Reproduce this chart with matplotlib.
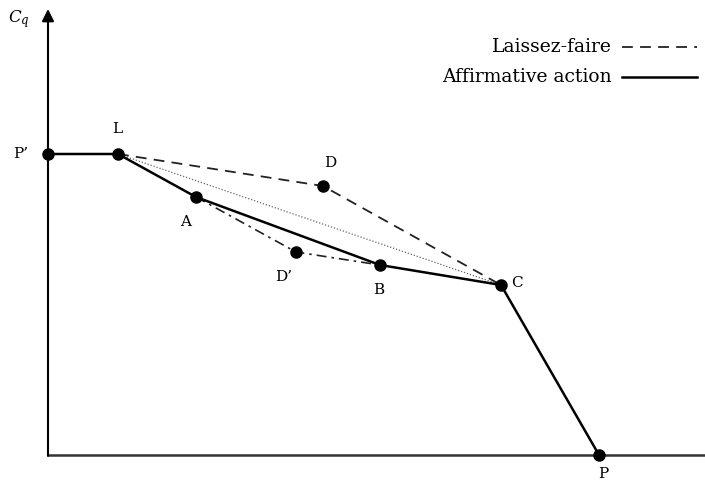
import matplotlib
matplotlib.use("Agg")
import matplotlib.pyplot as plt

# Point coordinates (origin at the axes corner)
point_names = ["P’", "L", "A", "D", "D’", "B", "C", "P"]
point_x = [0, 70, 148, 275, 248, 332, 453, 551]
point_y = [301, 301, 258, 269, 203, 190, 170, 0]

pts = dict(zip(point_names, zip(point_x, point_y)))

# Paths
affirmative_path = ["P’", "L", "A", "B", "C", "P"]
laissez_path = ["L", "D", "C"]
dotted_path = ["L", "C"]
dashdot_path = ["A", "D’", "B"]

# Label offsets (in pixels)
label_offsets = {
    "P’": (-27, 0), "L": (-1, 25), "A": (-10, -25), "D": (7, 23),
    "D’": (-12, -25), "B": (-1, -25), "C": (16, 2), "P": (4, -19),
}

plt.rcParams["font.family"] = ["DejaVu Serif"]
plt.rcParams["mathtext.fontset"] = "dejavuserif"

fig = plt.figure(figsize=(7.05, 4.82), dpi=100)
ax = fig.add_axes([0, 0, 1, 1])
ax.set_xlim(-48, 657)
ax.set_ylim(-27, 455)
ax.axis("off")


def path_xy(names):
    return [pts[n][0] for n in names], [pts[n][1] for n in names]


# axes
ax.plot([0, 660], [0, 0], color="#333333", lw=1.8, solid_capstyle="butt")
ax.annotate("", xy=(0, 446), xytext=(0, -1),
            arrowprops=dict(arrowstyle="-|>", color="black", lw=1.5,
                            mutation_scale=18, shrinkA=0, shrinkB=0))
ax.text(-40, 436, "$C_q$", fontsize=12, ha="left", va="center")

x, y = path_xy(dotted_path)
ax.plot(x, y, color="#666666", lw=0.9, ls=(0, (1, 1.5)))
x, y = path_xy(laissez_path)
ax.plot(x, y, color="#222222", lw=1.3, ls=(0, (6, 4)))
x, y = path_xy(dashdot_path)
ax.plot(x, y, color="#222222", lw=1.2, ls=(0, (6, 3, 1.5, 3)))
x, y = path_xy(affirmative_path)
ax.plot(x, y, color="black", lw=1.8)

ax.plot(point_x, point_y, "o", color="black", ms=8, zorder=5)

for name in point_names:
    dx, dy = label_offsets[name]
    ax.annotate(name, pts[name], xytext=(dx, dy), textcoords="offset pixels",
                ha="center", va="center", fontsize=11)

# legend
ax.text(564, 408, "Laissez-faire", ha="right", va="center", fontsize=13.5)
ax.text(564, 378, "Affirmative action", ha="right", va="center", fontsize=13.5)
ax.plot([574, 649], [408, 408], color="#222222", lw=1.3, ls=(0, (6, 4)))
ax.plot([574, 649], [378, 378], color="black", lw=1.8)

fig.savefig("out.png", dpi=100)
